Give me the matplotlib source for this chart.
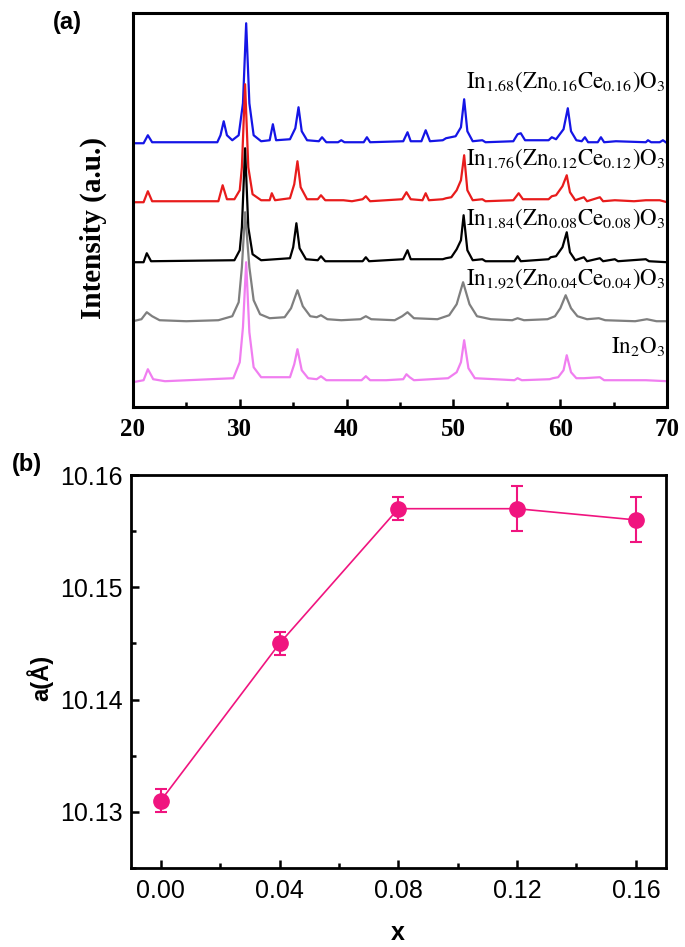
import numpy as np
import matplotlib
matplotlib.use("Agg")
import matplotlib.pyplot as plt
from matplotlib.ticker import MultipleLocator

plt.rcParams['mathtext.fontset'] = 'stix'

# XRD traces: 2-theta vertices and intensity above each baseline
tt_168 = [20.0, 21.0, 21.4, 21.8, 27.9, 28.2, 28.5, 28.8, 29.3, 29.9, 30.3, 30.6, 30.9, 31.3, 32.0,
          32.8, 33.1, 33.4, 34.7, 35.2, 35.5, 35.8, 36.3, 37.4, 37.7, 38.1, 39.2, 39.5, 39.8, 41.6,
          41.9, 42.2, 45.3, 45.7, 46.0, 47.0, 47.4, 47.8, 49.0, 49.3, 50.2, 50.7, 51.0, 51.3, 51.8,
          52.7, 53.0, 55.6, 56.0, 56.3, 56.7, 58.9, 59.2, 59.6, 60.3, 60.7, 61.0, 61.5, 62.0, 62.3,
          62.6, 63.5, 63.8, 64.1, 65.2, 68.0, 68.2, 68.5, 69.3, 69.6, 70.0]
i_168 = [0, 0, 8, 1, 1, 8, 22, 8, 3, 8, 40, 120, 40, 8, 2,
         3, 19, 3, 4, 15, 36, 12, 3, 2, 6, 1, 1, 3, 1, 1,
         6, 1, 2, 11, 2, 2, 13, 2, 3, 5, 7, 16, 44, 12, 2,
         3, 1, 2, 9, 10, 3, 3, 6, 4, 14, 35, 12, 3, 2, 6,
         1, 1, 6, 1, 2, 1, 3, 1, 1, 3, 0]

tt_176 = [20.0, 21.0, 21.4, 21.8, 28.0, 28.4, 28.8, 29.5, 30.0, 30.2, 30.5, 30.8, 31.2, 32.0, 32.8,
          33.0, 33.3, 34.7, 35.1, 35.4, 35.7, 36.3, 37.3, 37.6, 38.0, 39.7, 40.5, 41.5, 41.8, 42.2,
          45.2, 45.6, 46.0, 47.1, 47.4, 47.7, 49.0, 49.3, 49.8, 50.3, 50.7, 51.0, 51.3, 51.8, 52.7,
          53.0, 55.6, 56.1, 56.5, 58.9, 59.2, 59.6, 60.2, 60.6, 60.9, 61.4, 62.2, 62.5, 63.7, 64.0,
          65.1, 66.9, 68.0, 69.3, 70.0]
i_176 = [0, 0, 11, 1, 1, 17, 3, 3, 12, 35, 118, 35, 8, 2, 2,
         9, 2, 4, 18, 41, 15, 3, 3, 7, 2, 2, 1, 3, 6, 1,
         3, 10, 3, 2, 9, 2, 3, 4, 5, 12, 22, 47, 12, 2, 3,
         1, 2, 9, 3, 3, 6, 7, 16, 27, 10, 2, 5, 1, 5, 1,
         2, 1, 2, 2, 0]

tt_184 = [20.0, 21.0, 21.3, 21.7, 29.5, 30.0, 30.2, 30.5, 30.8, 31.2, 32.0, 34.7, 35.0, 35.3, 35.6,
          36.2, 37.3, 37.6, 38.0, 41.5, 41.8, 42.1, 45.3, 45.7, 46.0, 49.0, 49.3, 49.8, 50.3, 50.7,
          50.95, 51.3, 51.8, 52.7, 53.0, 55.7, 56.0, 56.3, 58.9, 59.1, 59.6, 60.2, 60.6, 60.9, 61.4,
          62.2, 62.5, 63.7, 64.0, 65.1, 65.4, 68.0, 68.3, 70.0]
i_184 = [0, 0, 9, 1, 2, 12, 35, 114, 35, 8, 2, 4, 15, 39, 14,
         3, 2, 6, 1, 1, 5, 1, 3, 12, 3, 3, 4, 5, 13, 22,
         47, 12, 2, 3, 1, 1, 6, 1, 3, 5, 6, 15, 30, 10, 2,
         5, 1, 4, 1, 3, 1, 3, 1, 0]

tt_192 = [20.0, 20.8, 21.3, 21.8, 22.5, 25.0, 28.0, 29.3, 29.9, 30.2, 30.5, 30.9, 31.3, 31.9, 32.8,
          34.2, 34.8, 35.4, 35.9, 36.6, 37.2, 37.6, 38.2, 39.5, 41.3, 41.8, 42.3, 44.5, 45.2, 45.7,
          46.3, 48.5, 49.6, 50.3, 50.9, 51.5, 52.2, 53.5, 55.5, 56.0, 56.6, 58.8, 59.5, 60.0, 60.5,
          61.0, 61.6, 62.5, 63.6, 64.2, 67.0, 68.1, 69.0, 70.0]
i_192 = [1, 3, 10, 6, 2, 1, 2, 6, 20, 55, 110, 55, 22, 8, 4,
         5, 14, 32, 16, 6, 5, 7, 3, 2, 3, 6, 3, 2, 6, 10,
         4, 3, 7, 18, 40, 18, 6, 3, 2, 4, 2, 3, 6, 14, 27,
         14, 6, 3, 4, 2, 1, 3, 1, 1]

tt_in2o3 = [20.0, 21.0, 21.4, 21.9, 23.0, 29.4, 30.0, 30.3, 30.6, 30.9, 31.3, 32.0, 34.7, 35.1, 35.4,
            35.8, 36.4, 37.2, 37.6, 38.1, 41.4, 41.8, 42.2, 43.7, 45.3, 45.6, 45.9, 46.3, 49.5, 50.3,
            50.7, 51.0, 51.4, 52.0, 55.7, 56.0, 56.4, 59.0, 59.3, 59.8, 60.3, 60.6, 61.0, 61.5, 62.2,
            63.7, 64.1, 65.2, 68.0, 70.0]
i_in2o3 = [0, 2, 13, 3, 1, 4, 20, 55, 120, 50, 15, 5, 5, 18, 33,
           12, 4, 3, 6, 2, 2, 6, 2, 2, 3, 8, 5, 2, 4, 10,
           20, 42, 14, 4, 2, 4, 2, 3, 4, 5, 12, 27, 10, 4, 4,
           5, 2, 2, 2, 1]

traces = [(tt_168, i_168), (tt_176, i_176), (tt_184, i_184), (tt_192, i_192), (tt_in2o3, i_in2o3)]
offsets = [264, 205, 145, 85, 25]
colors = ['#1515e6', '#e81c1c', '#000000', '#7f7f7f', '#f07ef0']
names = [r'$\mathrm{In_{1.68}(Zn_{0.16}Ce_{0.16})O_3}$',
         r'$\mathrm{In_{1.76}(Zn_{0.12}Ce_{0.12})O_3}$',
         r'$\mathrm{In_{1.84}(Zn_{0.08}Ce_{0.08})O_3}$',
         r'$\mathrm{In_{1.92}(Zn_{0.04}Ce_{0.04})O_3}$',
         r'$\mathrm{In_2O_3}$']
label_y = [319, 242, 182, 122, 54]

# lattice parameter, panel (b)
x_dop = [0.00, 0.04, 0.08, 0.12, 0.16]
a_lat = [10.131, 10.145, 10.157, 10.157, 10.156]
a_err = [0.001, 0.001, 0.001, 0.002, 0.002]

fig = plt.figure(figsize=(6.85, 9.47), dpi=100)

# ---- (a) ----
ax1 = fig.add_axes([0.194, 0.570, 0.780, 0.416])
for (tt, ii), off, c in zip(traces, offsets, colors):
    ax1.plot(tt, np.array(ii) + off, color=c, lw=1.6)
for name, ly in zip(names, label_y):
    ax1.text(69.8, ly, name, ha='right', va='baseline', fontsize=16.5)
ax1.set_xlim(20, 70)
ax1.set_ylim(0, 394)
ax1.set_yticks([])
ax1.xaxis.set_major_locator(MultipleLocator(10))
ax1.xaxis.set_minor_locator(MultipleLocator(5))
ax1.tick_params(axis='x', which='both', direction='in', width=1.8, top=False, pad=8)
ax1.tick_params(axis='x', which='major', length=6)
ax1.tick_params(axis='x', which='minor', length=3.5)
for lab in ax1.get_xticklabels():
    lab.set_fontfamily('Liberation Serif')
    lab.set_fontweight('bold')
    lab.set_fontsize(18)
for s in ax1.spines.values():
    s.set_linewidth(2.2)

fig.text(0.136, 0.759, 'Intensity (a.u.)', rotation=90, ha='center', va='center',
         family='Liberation Serif', fontweight='bold', fontsize=21)
fig.text(0.099, 0.976, '(a)', ha='center', va='center', family='Liberation Sans',
         fontweight='bold', fontsize=17)

# ---- (b) ----
ax2 = fig.add_axes([0.191, 0.0834, 0.781, 0.415])
pink = '#f0147f'
ax2.errorbar(x_dop, a_lat, yerr=a_err, color=pink, lw=1.2, marker='o', ms=11,
             ecolor=pink, elinewidth=1.5, capsize=4.5, capthick=1.5)
ax2.set_xlim(-0.0101, 0.1701)
ax2.set_ylim(10.125, 10.16)
ax2.set_xticks(x_dop)
ax2.set_xticklabels(['0.00', '0.04', '0.08', '0.12', '0.16'])
ax2.set_yticks([10.13, 10.14, 10.15, 10.16])
ax2.set_yticklabels(['10.13', '10.14', '10.15', '10.16'])
ax2.xaxis.set_minor_locator(MultipleLocator(0.02))
ax2.yaxis.set_minor_locator(MultipleLocator(0.005))
ax2.tick_params(which='both', direction='in', width=1.8, top=False, right=False)
ax2.tick_params(which='major', length=6)
ax2.tick_params(which='minor', length=3.5)
ax2.tick_params(axis='x', pad=8)
ax2.tick_params(axis='y', pad=6)
for lab in ax2.get_xticklabels() + ax2.get_yticklabels():
    lab.set_fontfamily('Liberation Sans')
    lab.set_fontsize(18)
for s in ax2.spines.values():
    s.set_linewidth(2)

fig.text(0.581, 0.015, 'x', ha='center', va='center', family='Liberation Sans',
         fontweight='bold', fontsize=18)
fig.text(0.058, 0.284, 'a(Å)', rotation=90, ha='center', va='center',
         family='Liberation Sans', fontweight='bold', fontsize=17)
fig.text(0.039, 0.509, '(b)', ha='center', va='center', family='Liberation Sans',
         fontweight='bold', fontsize=17)

fig.savefig('out.png', dpi=100)
